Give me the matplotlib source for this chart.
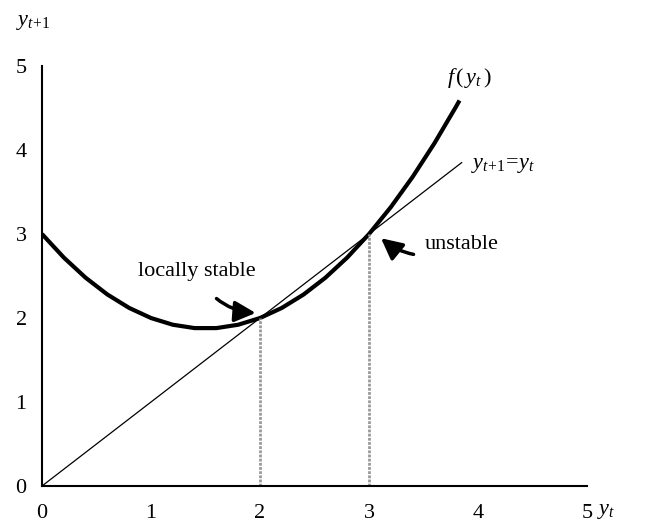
import matplotlib
matplotlib.use('Agg')
import matplotlib.pyplot as plt

plt.rcParams['font.family'] = 'Liberation Serif'
plt.rcParams['mathtext.fontset'] = 'custom'
plt.rcParams['mathtext.rm'] = 'Liberation Serif'
plt.rcParams['mathtext.it'] = 'Liberation Serif:italic'

# values
curve_x = [0.0, 0.1, 0.2, 0.3, 0.4, 0.5, 0.6, 0.7, 0.8, 0.9,
           1.0, 1.1, 1.2, 1.3, 1.4, 1.5, 1.6, 1.7, 1.8, 1.9,
           2.0, 2.1, 2.2, 2.3, 2.4, 2.5, 2.6, 2.7, 2.8, 2.9,
           3.0, 3.1, 3.2, 3.3, 3.4, 3.5, 3.6, 3.7, 3.8, 3.83]
curve_y = [3.0, 2.86, 2.72, 2.6, 2.48, 2.38, 2.28, 2.2, 2.12, 2.06,
           2.0, 1.96, 1.92, 1.9, 1.88, 1.88, 1.88, 1.9, 1.92, 1.96,
           2.0, 2.06, 2.12, 2.2, 2.28, 2.38, 2.48, 2.6, 2.72, 2.86,
           3.0, 3.16, 3.32, 3.5, 3.68, 3.88, 4.08, 4.3, 4.52, 4.59]
diag_x = [0.0, 3.85]
diag_y = [0.0, 3.85]
eq_x = [2, 3]
eq_y = [2, 3]
ticks = [0, 1, 2, 3, 4, 5]

fig = plt.figure(figsize=(6.48, 5.24), dpi=100)
ax = fig.add_axes([0.0648, 0.0725, 0.8411, 0.8015])

ax.plot(diag_x, diag_y, color='black', lw=0.9)
ax.plot(curve_x, curve_y, color='black', lw=3, solid_capstyle='butt')
for x, y in zip(eq_x, eq_y):
    ax.plot([x, x], [0, y], color='#999999', lw=2, ls=(0, (1, 0.5)))

ax.set_xlim(0, 5)
ax.set_ylim(0, 5)
ax.set_xticks(ticks)
ax.set_yticks(ticks)
ax.tick_params(length=0, labelsize=16)
ax.tick_params(axis='x', pad=13)
ax.tick_params(axis='y', pad=11)
for s in ['top', 'right']:
    ax.spines[s].set_visible(False)
for s in ['left', 'bottom']:
    ax.spines[s].set_linewidth(1.5)

ax.text(-0.08, 5.52, r'$y_{t\!+\!1}$', fontsize=16, ha='center', va='center', clip_on=False)
ax.text(5.18, -0.3, r'$y_t$', fontsize=16, ha='center', va='center', clip_on=False)
ax.text(3.72, 4.86, r'$f\,(\,y_t\,)$', fontsize=16, ha='left', va='center')
ax.text(3.94, 3.82, r'$y_{t\!+\!1}\!=\!y_t$', fontsize=16, ha='left', va='center')

ax.annotate('locally stable', xy=(1.96, 2.06), xytext=(1.42, 2.55),
            fontsize=16, ha='center', va='center',
            arrowprops=dict(arrowstyle='-|>,head_length=0.8,head_width=0.4', color='black', lw=2.5,
                            connectionstyle='arc3,rad=0.3', shrinkA=14, shrinkB=0))
ax.annotate('unstable', xy=(3.11, 2.95), xytext=(3.51, 2.88),
            fontsize=16, ha='left', va='center',
            arrowprops=dict(arrowstyle='-|>,head_length=0.8,head_width=0.4', color='black', lw=2.5,
                            connectionstyle='arc3,rad=-0.35', shrinkA=6, shrinkB=0))

plt.savefig('out.png', dpi=100)
